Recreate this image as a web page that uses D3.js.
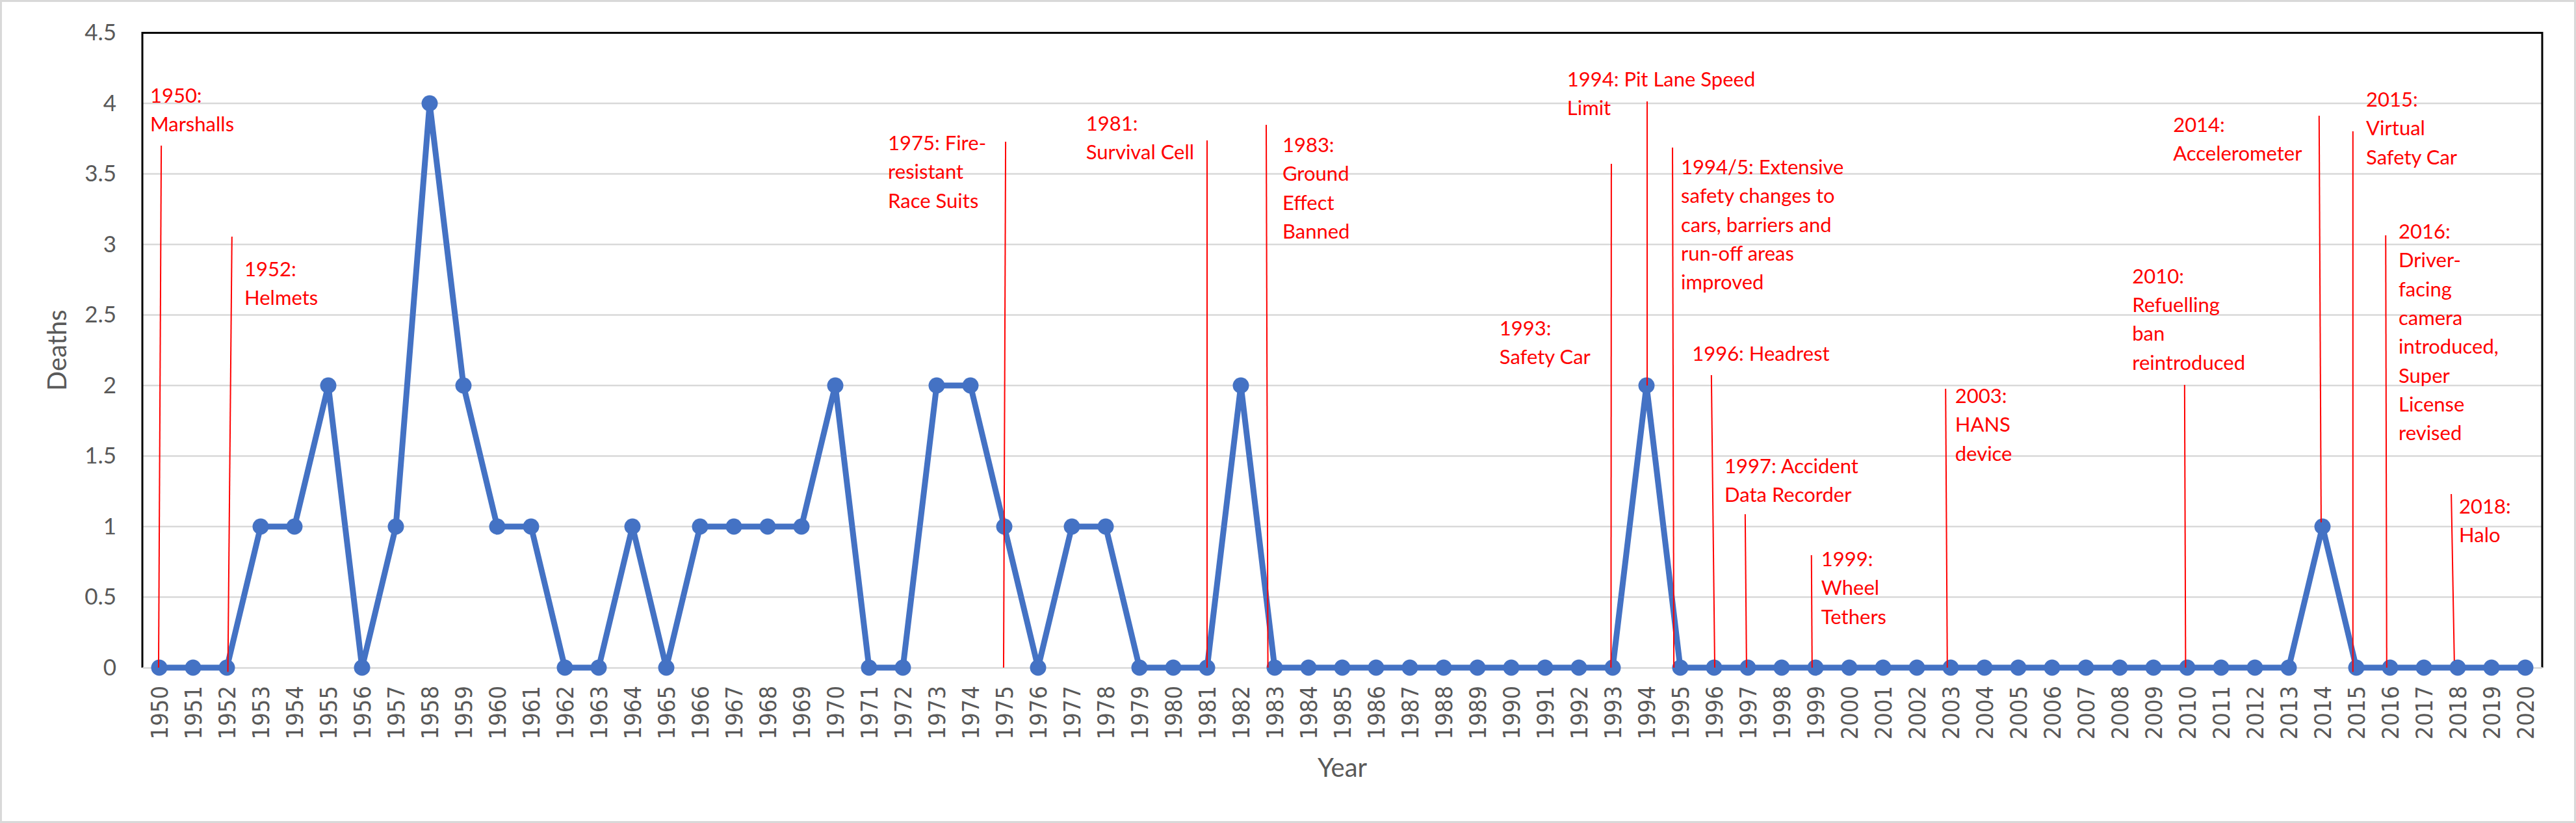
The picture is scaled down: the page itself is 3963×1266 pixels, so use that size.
<!DOCTYPE html>
<html>
<head>
<meta charset="utf-8">
<script src="https://cdn.jsdelivr.net/npm/d3@7"></script>
<style>
  body { margin: 0; background: #fff; }
  svg { display: block; }
</style>
</head>
<body>
<svg id="chart"></svg>
<script>
(() => {
  const width = 3963;
  const height = 1266;

  // F1 driver deaths per season
  const years = [1950, 1951, 1952, 1953, 1954, 1955, 1956, 1957, 1958, 1959,
    1960, 1961, 1962, 1963, 1964, 1965, 1966, 1967, 1968, 1969,
    1970, 1971, 1972, 1973, 1974, 1975, 1976, 1977, 1978, 1979,
    1980, 1981, 1982, 1983, 1984, 1985, 1986, 1987, 1988, 1989,
    1990, 1991, 1992, 1993, 1994, 1995, 1996, 1997, 1998, 1999,
    2000, 2001, 2002, 2003, 2004, 2005, 2006, 2007, 2008, 2009,
    2010, 2011, 2012, 2013, 2014, 2015, 2016, 2017, 2018, 2019, 2020];

  const deaths = [0, 0, 0, 1, 1, 2, 0, 1, 4, 2,
    1, 1, 0, 0, 1, 0, 1, 1, 1, 1,
    2, 0, 0, 2, 2, 1, 0, 1, 1, 0,
    0, 0, 2, 0, 0, 0, 0, 0, 0, 0,
    0, 0, 0, 0, 2, 0, 0, 0, 0, 0,
    0, 0, 0, 0, 0, 0, 0, 0, 0, 0,
    0, 0, 0, 0, 1, 0, 0, 0, 0, 0, 0];

  const yTicks = [0, 0.5, 1, 1.5, 2, 2.5, 3, 3.5, 4, 4.5];
  const yTickLabels = ["0", "0.5", "1", "1.5", "2", "2.5", "3", "3.5", "4", "4.5"];

  // safety milestones: text lines
  const noteText = [
    ["1950:", "Marshalls"],
    ["1952:", "Helmets"],
    ["1975: Fire-", "resistant", "Race Suits"],
    ["1981:", "Survival Cell"],
    ["1983:", "Ground", "Effect", "Banned"],
    ["1994: Pit Lane Speed", "Limit"],
    ["1993:", "Safety Car"],
    ["1994/5: Extensive", "safety changes to", "cars, barriers and", "run-off areas", "improved"],
    ["1996: Headrest"],
    ["1997: Accident", "Data Recorder"],
    ["1999:", "Wheel", "Tethers"],
    ["2003:", "HANS", "device"],
    ["2010:", "Refuelling", "ban", "reintroduced"],
    ["2014:", "Accelerometer"],
    ["2015:", "Virtual", "Safety Car"],
    ["2016:", "Driver-", "facing", "camera", "introduced,", "Super", "License", "revised"],
    ["2018:", "Halo"]
  ];
  // where each note's text starts, in (year, deaths) units
  const noteTextYear = [1949.73, 1952.52, 1971.56, 1977.42, 1983.23, 1991.65, 1989.65, 1995.02,
    1995.35, 1996.31, 1999.17, 2003.13, 2008.37, 2009.58, 2015.29, 2016.25, 2018.04];
  const noteTextDeaths = [4.005, 2.774, 3.668, 3.806, 3.654, 4.12, 2.355, 3.498,
    2.175, 1.378, 0.719, 1.876, 2.724, 3.797, 3.977, 3.041, 1.092];
  // red pointer lines: year at top / bottom, deaths at top / bottom
  const noteLineYearTop = [1950.06, 1952.15, 1975.04, 1981.0, 1982.75, 1994.02, 1992.96, 1994.77,
    1995.92, 1996.92, 1998.88, 2002.85, 2009.92, 2013.9, 2014.9, 2015.87, 2017.81];
  const noteLineYearBottom = [1949.98, 1952.03, 1974.98, 1981.0, 1982.8, 1994.02, 1992.95, 1994.81,
    1996.02, 1996.96, 1998.9, 2002.9, 2009.95, 2013.96, 2014.9, 2015.9, 2017.9];
  const noteLineTop = [3.70, 3.055, 3.728, 3.737, 3.848, 4.014, 3.571, 3.687,
    2.074, 1.088, 0.797, 1.977, 2.005, 3.912, 3.802, 3.065, 1.23];
  const noteLineBottom = [0, -0.03, 0, 0, 0, 2.0, 0, 0,
    0, 0, 0, 0, 0, 1.03, -0.03, 0, 0.05];

  const margin = { top: 50.5, right: 52, bottom: 239, left: 219 };

  const svg = d3.select("#chart")
    .attr("width", width)
    .attr("height", height);

  // chart area border
  svg.append("rect")
    .attr("x", 1.5).attr("y", 1.5)
    .attr("width", width - 3).attr("height", height - 3)
    .attr("fill", "#fff")
    .attr("stroke", "#d9d9d9")
    .attr("stroke-width", 3);

  const x = d3.scalePoint()
    .domain(years)
    .range([margin.left, width - margin.right])
    .padding(0.5);

  // continuous year position for the notes
  const xYear = d3.scaleLinear()
    .domain([years[0], years[years.length - 1]])
    .range([x(years[0]), x(years[years.length - 1])]);

  const y = d3.scaleLinear()
    .domain([0, 4.5])
    .range([height - margin.bottom, margin.top]);

  // gridlines
  svg.append("g")
    .selectAll("line")
    .data(yTicks.slice(1))
    .join("line")
    .attr("x1", margin.left)
    .attr("x2", width - margin.right)
    .attr("y1", d => y(d))
    .attr("y2", d => y(d))
    .attr("stroke", "#d9d9d9")
    .attr("stroke-width", 2.5);

  // plot area frame (left, top, right)
  svg.append("path")
    .attr("d", `M${margin.left},${y(0)}V${y(4.5)}H${width - margin.right}V${y(0)}`)
    .attr("fill", "none")
    .attr("stroke", "#000")
    .attr("stroke-width", 3);

  // y axis
  const yAxis = svg.append("g")
    .attr("transform", `translate(${margin.left},0)`)
    .call(d3.axisLeft(y).tickValues(yTicks).tickFormat((d, i) => yTickLabels[i]).tickSize(0).tickPadding(40));
  yAxis.select(".domain").remove();
  yAxis.selectAll("text")
    .attr("fill", "#595959")
    .style("font-family", "Lato, 'Open Sans', sans-serif")
    .style("font-size", "35px");

  // x axis
  const xAxis = svg.append("g")
    .attr("transform", `translate(0,${y(0)})`)
    .call(d3.axisBottom(x).tickSize(0).tickPadding(0));
  xAxis.select(".domain")
    .attr("stroke", "#d9d9d9")
    .attr("stroke-width", 2.5);
  xAxis.selectAll("text")
    .attr("transform", "rotate(-90)")
    .attr("x", -28)
    .attr("y", 0)
    .attr("dy", "0.35em")
    .attr("text-anchor", "end")
    .attr("fill", "#595959")
    .style("font-family", "'DejaVu Sans Condensed', 'DejaVu Sans', sans-serif")
    .style("font-stretch", "condensed")
    .style("font-size", "36px");

  // axis titles
  svg.append("text")
    .attr("transform", `translate(${(margin.left + width - margin.right) / 2},1195)`)
    .attr("text-anchor", "middle")
    .attr("fill", "#595959")
    .style("font-family", "Lato, 'Open Sans', sans-serif")
    .style("font-size", "40px")
    .text("Year");

  svg.append("text")
    .attr("transform", `translate(102,${(y(0) + y(4.5)) / 2}) rotate(-90)`)
    .attr("text-anchor", "middle")
    .attr("fill", "#595959")
    .style("font-family", "Lato, 'Open Sans', sans-serif")
    .style("font-size", "40px")
    .text("Deaths");

  // deaths line
  const line = d3.line()
    .x((d, i) => x(years[i]))
    .y(d => y(d));

  svg.append("path")
    .datum(deaths)
    .attr("fill", "none")
    .attr("stroke", "#4472c4")
    .attr("stroke-width", 9)
    .attr("stroke-linejoin", "round")
    .attr("d", line);

  svg.append("g")
    .selectAll("circle")
    .data(deaths)
    .join("circle")
    .attr("cx", (d, i) => x(years[i]))
    .attr("cy", d => y(d))
    .attr("r", 12.5)
    .attr("fill", "#4472c4");

  // milestone pointer lines
  svg.append("g")
    .selectAll("line")
    .data(noteText)
    .join("line")
    .attr("x1", (d, i) => xYear(noteLineYearTop[i]))
    .attr("x2", (d, i) => xYear(noteLineYearBottom[i]))
    .attr("y1", (d, i) => y(noteLineTop[i]))
    .attr("y2", (d, i) => y(noteLineBottom[i]))
    .attr("stroke", "#ff0000")
    .attr("stroke-width", 2);

  // milestone texts
  svg.append("g")
    .selectAll("text")
    .data(noteText)
    .join("text")
    .attr("fill", "#ff0000")
    .style("font-family", "Lato, 'Open Sans', sans-serif")
    .style("font-size", "31px")
    .each(function (lines, i) {
      d3.select(this)
        .selectAll("tspan")
        .data(lines)
        .join("tspan")
        .attr("x", xYear(noteTextYear[i]))
        .attr("y", (t, j) => y(noteTextDeaths[i]) + j * 44.3)
        .text(t => t);
    });
})();
</script>
</body>
</html>
